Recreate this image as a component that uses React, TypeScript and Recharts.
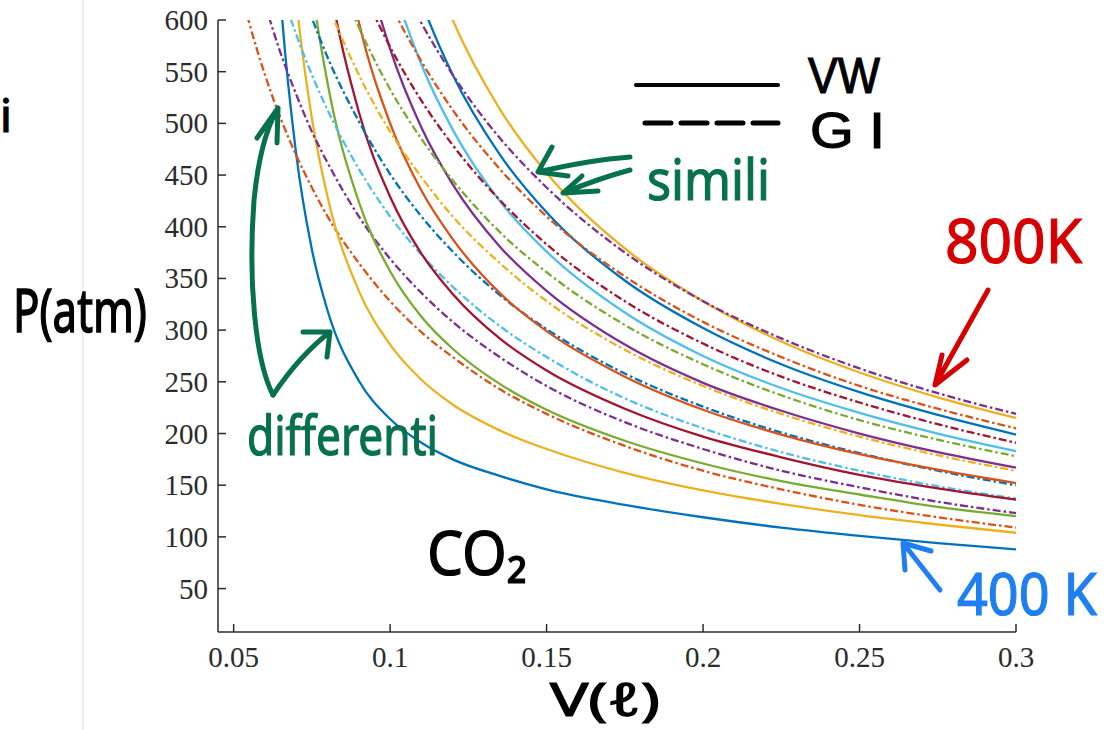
import { LineChart, Line, XAxis, YAxis } from "recharts";

// volume (l) sample points
const V = [0.045, 0.05, 0.055, 0.06, 0.065, 0.07, 0.075, 0.08, 0.09, 0.1, 0.11, 0.12, 0.135, 0.15, 0.175, 0.2, 0.225, 0.25, 0.275, 0.3];

// Van der Waals isotherms (atm), null = far above the plot
const vw400 = [null, null, 1482, 900, 622, 470, 378, 319, 251, 214, 191, 175, 159, 146, 131, 119, 109, 101, 94, 88];
const vw450 = [null, null, 1815, 1137, 806, 620, 505, 429, 338, 286, 252, 228, 203, 185, 162, 145, 132, 121, 112, 104];
const vw500 = [null, null, null, 1375, 990, 770, 632, 539, 424, 357, 313, 282, 248, 223, 193, 171, 154, 141, 129, 120];
const vw550 = [null, null, null, 1612, 1174, 921, 759, 649, 511, 429, 374, 335, 292, 261, 224, 197, 177, 160, 147, 136];
const vw600 = [null, null, null, null, 1358, 1071, 886, 759, 598, 500, 435, 388, 336, 299, 255, 223, 199, 180, 165, 152];
const vw650 = [null, null, null, null, 1542, 1221, 1013, 869, 685, 572, 496, 441, 381, 338, 286, 249, 222, 200, 182, 167];
const vw700 = [null, null, null, null, null, 1371, 1140, 979, 771, 644, 557, 494, 425, 376, 317, 275, 244, 220, 200, 183];
const vw750 = [null, null, null, null, null, null, 1267, 1089, 858, 715, 618, 547, 470, 414, 348, 302, 267, 240, 218, 199];
const vw800 = [null, null, null, null, null, null, null, 1199, 945, 787, 679, 600, 514, 452, 379, 328, 289, 259, 235, 215];

// ideal gas isotherms (atm)
const gi400 = [729, 656, 597, 547, 505, 469, 438, 410, 365, 328, 298, 274, 243, 219, 188, 164, 146, 131, 119, 109];
const gi450 = [821, 739, 671, 616, 568, 528, 492, 462, 410, 369, 336, 308, 274, 246, 211, 185, 164, 148, 134, 123];
const gi500 = [912, 821, 746, 684, 631, 586, 547, 513, 456, 410, 373, 342, 304, 274, 234, 205, 182, 164, 149, 137];
const gi550 = [1003, 903, 821, 752, 694, 645, 602, 564, 502, 451, 410, 376, 334, 301, 258, 226, 201, 181, 164, 150];
const gi600 = [1094, 985, 895, 821, 758, 703, 657, 616, 547, 492, 448, 410, 365, 328, 281, 246, 219, 197, 179, 164];
const gi650 = [1185, 1067, 970, 889, 821, 762, 711, 667, 593, 533, 485, 445, 395, 356, 305, 267, 237, 213, 194, 178];
const gi700 = [1277, 1149, 1044, 957, 884, 821, 766, 718, 638, 574, 522, 479, 426, 383, 328, 287, 255, 230, 209, 191];
const gi750 = [1368, 1231, 1119, 1026, 947, 879, 821, 769, 684, 616, 560, 513, 456, 410, 352, 308, 274, 246, 224, 205];
const gi800 = [1459, 1313, 1194, 1094, 1010, 938, 875, 821, 729, 657, 597, 547, 486, 438, 375, 328, 292, 263, 239, 219];

const TEMPS = [400, 450, 500, 550, 600, 650, 700, 750, 800];
const X_TICKS = [0.05, 0.1, 0.15, 0.2, 0.25, 0.3];
const Y_TICKS = [50, 100, 150, 200, 250, 300, 350, 400, 450, 500, 550, 600];

const seriesData: Record<string, (number | null)[]> = {
  vw400, gi400, vw450, gi450, vw500, gi500, vw550, gi550, vw600, gi600,
  vw650, gi650, vw700, gi700, vw750, gi750, vw800, gi800,
};

// matlab default color order
const COLORS = ["#0072BD", "#D95319", "#EDB120", "#7E2F8E", "#77AC30", "#4DBEEE", "#A2142F"];
const seriesKeys = TEMPS.flatMap((t) => [`vw${t}`, `gi${t}`]);

const rows = V.map((v, i) => {
  const row: Record<string, number | null> = { v };
  for (const k of seriesKeys) row[k] = seriesData[k][i];
  return row;
});

const AXIS = "#2b2b2b";
const tickFont = { fontFamily: "'Liberation Serif', 'Times New Roman', serif", fontSize: 29, fill: AXIS };
const hand = { fontFamily: "'Noto Sans', sans-serif" };
const handTight = { fontFamily: "'Liberation Sans', Arial, sans-serif" };

const YTick = ({ x, y, payload }: any) => (
  <g>
    <line x1={x + 10} x2={x + 18} y1={y} y2={y} stroke={AXIS} strokeWidth={1.5} />
    <text x={x} y={y} dy={10} textAnchor="end" style={tickFont}>
      {payload.value}
    </text>
  </g>
);

const XTick = ({ x, y, payload }: any) => (
  <g>
    <line x1={x} x2={x} y1={y} y2={y - 8} stroke={AXIS} strokeWidth={1.5} />
    <text x={x} y={y + 35} textAnchor="middle" style={tickFont}>
      {payload.value}
    </text>
  </g>
);

const Annotations = () => {
  const green = "#07704c";
  const red = "#d60000";
  const blue = "#1f7ff0";
  const arrow = { fill: "none", strokeWidth: 5, strokeLinecap: "round" as const, strokeLinejoin: "round" as const };
  const ink = (c: string, s = hand) => ({ fill: c, stroke: c, strokeWidth: 1.2, style: s });
  return (
    <svg width={1114} height={730} style={{ position: "absolute", left: 0, top: 0, pointerEvents: "none" }}>
      <line x1={83} x2={83} y1={0} y2={730} stroke="#e4e9ef" strokeWidth={1.5} />
      <text x={0} y={132} fontSize={46} {...ink("#000")}>i</text>

      <g transform="translate(13 332) scale(1 1.25)">
        <text x={0} y={0} fontSize={48} textLength={134} lengthAdjust="spacingAndGlyphs" {...ink("#000")}>P(atm)</text>
      </g>
      <text x={550} y={716} fontSize={46} textLength={110} lengthAdjust="spacingAndGlyphs" {...ink("#000")}>V(ℓ)</text>
      <text x={427} y={575} fontSize={62} textLength={100} lengthAdjust="spacingAndGlyphs" {...ink("#000")}>CO₂</text>

      <line x1={636} x2={778} y1={85} y2={85} stroke="#000" strokeWidth={4} strokeLinecap="round" />
      <line x1={645} x2={778} y1={123} y2={123} stroke="#000" strokeWidth={5} strokeDasharray="26 10" strokeLinecap="round" />
      <text x={808} y={93} fontSize={50} textLength={72} lengthAdjust="spacingAndGlyphs" {...ink("#000", handTight)}>VW</text>
      <text x={810} y={148} fontSize={50} textLength={75} lengthAdjust="spacingAndGlyphs" {...ink("#000", handTight)}>G I</text>

      <text x={647} y={200} fontSize={56} textLength={123} lengthAdjust="spacingAndGlyphs" {...ink(green)}>simili</text>
      <path d="M630 157 Q590 160 538 172 M552 147 L538 172 L568 176" stroke={green} {...arrow} />
      <path d="M630 170 Q600 178 563 193 M582 176 L563 193 L598 191" stroke={green} {...arrow} />

      <text x={247} y={455} fontSize={54} textLength={191} lengthAdjust="spacingAndGlyphs" {...ink(green)}>differenti</text>
      <path d="M273 395 C255 360 248 280 254 200 C258 160 265 130 278 108 M257 138 L278 108 L277 143" stroke={green} {...arrow} />
      <path d="M273 395 Q300 355 330 332 M303 332 L330 332 L327 357" stroke={green} {...arrow} />

      <text x={945} y={263} fontSize={62} textLength={137} lengthAdjust="spacingAndGlyphs" {...ink(red)}>800K</text>
      <path d="M988 290 L935 385 M942 355 L935 385 L967 360" stroke={red} {...arrow} />

      <text x={957} y={615} fontSize={58} textLength={140} lengthAdjust="spacingAndGlyphs" {...ink(blue)}>400 K</text>
      <path d="M940 590 L903 543 M931 551 L903 543 L905 570" stroke={blue} {...arrow} />
    </svg>
  );
};

export default function App() {
  return (
    <div style={{ position: "absolute", left: 0, top: 0, width: 1114, height: 730, background: "#fff" }}>
      <LineChart width={1114} height={730} data={rows} margin={{ top: 20, right: 98, left: 0, bottom: 0 }}>
        <XAxis
          type="number"
          dataKey="v"
          domain={[0.045, 0.3]}
          ticks={X_TICKS}
          interval={0}
          height={98}
          tickSize={0}
          tickMargin={0}
          tickLine={false}
          axisLine={{ stroke: AXIS, strokeWidth: 1.5 }}
          tick={(p: any) => <XTick {...p} />}
        />
        <YAxis
          type="number"
          domain={[8, 600]}
          allowDataOverflow
          ticks={Y_TICKS}
          interval={0}
          width={218}
          tickSize={0}
          tickMargin={10}
          tickLine={false}
          axisLine={{ stroke: AXIS, strokeWidth: 1.5 }}
          tick={(p: any) => <YTick {...p} />}
        />
        {seriesKeys.map((k, i) => (
          <Line
            key={k}
            type="monotone"
            dataKey={k}
            stroke={COLORS[i % COLORS.length]}
            strokeWidth={2.3}
            strokeDasharray={k.startsWith("gi") ? "8 3 2.5 3" : undefined}
            dot={false}
            activeDot={false}
            isAnimationActive={false}
          />
        ))}
      </LineChart>
      <Annotations />
    </div>
  );
}
